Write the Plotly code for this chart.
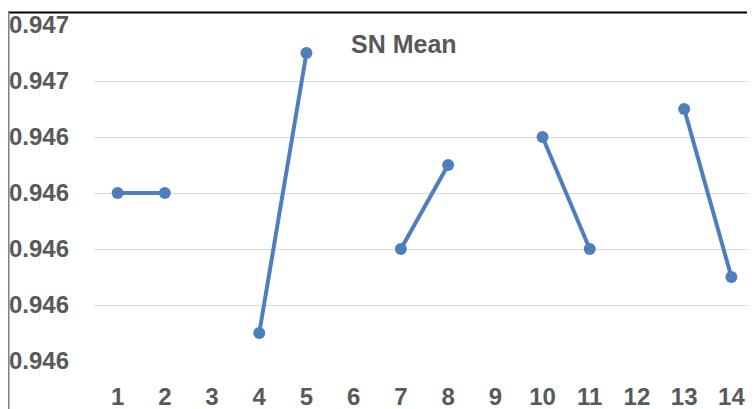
import plotly.graph_objects as go

categories = [str(i) for i in range(1, 15)]
sn_mean = [0.9463, 0.9463, None, 0.94605, 0.94655, None, 0.9462, 0.94635, None,
           0.9464, 0.9462, None, 0.94645, 0.94615]
y_tickvals = [0.9460, 0.9461, 0.9462, 0.9463, 0.9464, 0.9465, 0.9466]
y_ticktext = ["0.946", "0.946", "0.946", "0.946", "0.946", "0.947", "0.947"]

# page has an 8px body margin, so the figure is drawn 8px right/down
OFF = 8
W, H = 755 - OFF, 409 - OFF
ML, MR, MT, MB = 86, 0, 17, 48
PW, PH = W - ML - MR, H - MT - MB

def px_x(p):
    return (p - OFF - ML) / PW

def px_y(p):
    return (H - MB - (p - OFF)) / PH

blue = "#4E7FBD"
gray_text = "#595959"
font_fam = "Liberation Sans, Arial, sans-serif"

fig = go.Figure()
fig.add_trace(go.Scatter(
    x=categories, y=sn_mean, mode="lines+markers",
    line=dict(color=blue, width=4),
    marker=dict(color=blue, size=12),
    connectgaps=False, showlegend=False,
))

fig.update_layout(
    width=W, height=H,
    margin=dict(l=ML, r=MR, t=MT, b=MB, autoexpand=False),
    paper_bgcolor="white", plot_bgcolor="white",
    font=dict(family=font_fam, color=gray_text),
    xaxis=dict(
        type="category", range=[-0.5, 13.5], showgrid=False, zeroline=False,
        showline=False, ticks="", tickfont=dict(size=24, color=gray_text, weight="bold"),
        ticklabelstandoff=19, automargin=False,
    ),
    yaxis=dict(
        range=[0.9460, 0.9466], tickvals=y_tickvals, ticktext=y_ticktext,
        showgrid=True, gridcolor="#D9D9D9", gridwidth=1, zeroline=False,
        showline=False, ticks="", tickfont=dict(size=24, color=gray_text, weight="bold"),
        ticklabelstandoff=24, automargin=False,
    ),
    annotations=[dict(
        text="<b>SN Mean</b>", x=px_x(404), y=px_y(44), xref="paper", yref="paper",
        xanchor="center", yanchor="middle", showarrow=False,
        font=dict(size=25, color=gray_text, family=font_fam),
    )],
    shapes=[
        dict(type="line", xref="paper", yref="paper", x0=px_x(8), x1=px_x(760),
             y0=px_y(12.5), y1=px_y(12.5), line=dict(color="black", width=2)),
        dict(type="line", xref="paper", yref="paper", x0=px_x(8.75), x1=px_x(8.75),
             y0=px_y(12), y1=px_y(415), line=dict(color="#7F7F7F", width=1.5)),
    ],
)

fig.write_html("out.html")
